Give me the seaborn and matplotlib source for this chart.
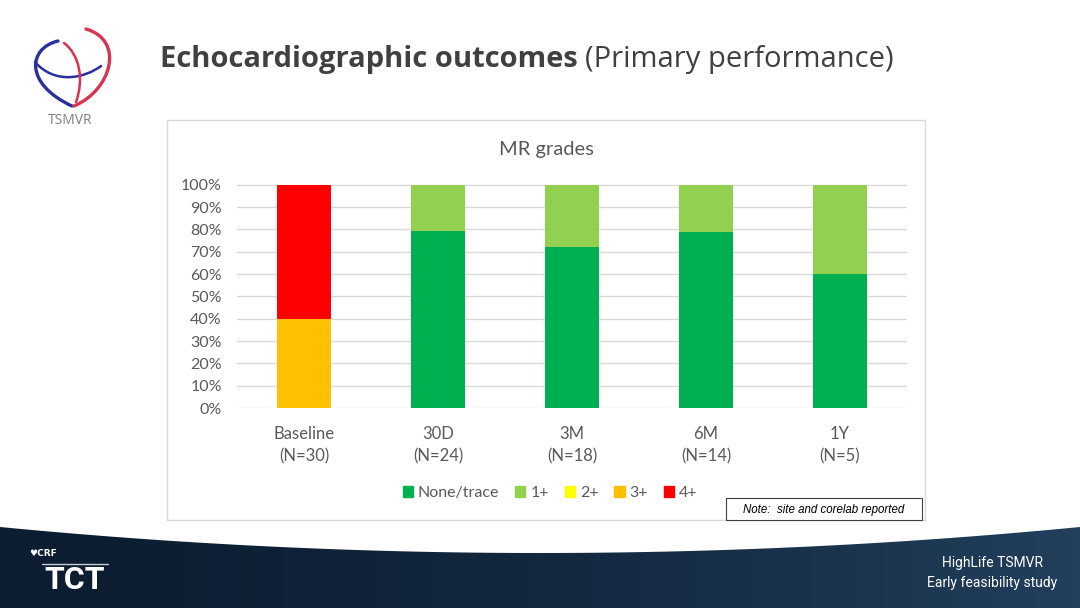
import numpy as np
import pandas as pd
import matplotlib
matplotlib.use("Agg")
import matplotlib.pyplot as plt
import seaborn as sns
from matplotlib.patches import Rectangle, Patch, PathPatch, Polygon
from matplotlib.path import Path
from matplotlib.colors import LinearSegmentedColormap
from matplotlib.ticker import PercentFormatter

# data (percent of patients per MR grade)
timepoints = ["Baseline\n(N=30)", "30D\n(N=24)", "3M\n(N=18)", "6M\n(N=14)", "1Y\n(N=5)"]
grades = ["None/trace", "1+", "2+", "3+", "4+"]
none_trace = [0.0, 79.2, 72.2, 78.6, 60.0]
grade_1 = [0.0, 20.8, 27.8, 21.4, 40.0]
grade_2 = [0.0, 0.0, 0.0, 0.0, 0.0]
grade_3 = [40.0, 0.0, 0.0, 0.0, 0.0]
grade_4 = [60.0, 0.0, 0.0, 0.0, 0.0]
grade_colors = ["#00B050", "#92D050", "#FFFF00", "#FFC000", "#FF0000"]

sns.set_theme(style="white")
plt.rcParams["font.family"] = ["Lato", "DejaVu Sans"]

df = pd.DataFrame({"timepoint": timepoints, "None/trace": none_trace, "1+": grade_1,
                   "2+": grade_2, "3+": grade_3, "4+": grade_4})
cum = df[grades].cumsum(axis=1) / 100.0

W, H = 1080, 608
fig = plt.figure(figsize=(W / 100, H / 100), dpi=100)
fig.patch.set_facecolor("white")

def fx(px):
    return px / W

def fy(py):
    return 1 - py / H

# chart frame
fig.patches.append(Rectangle((fx(167), fy(520)), fx(925) - fx(167), fy(120) - fy(520),
                             transform=fig.transFigure, fc="white", ec="#d9d9d9", lw=1, zorder=-2))

ax = fig.add_axes([fx(237), fy(408), fx(907) - fx(237), fy(184) - fy(408)])
# stacked bars: draw cumulative totals from the top grade down
for g, c in reversed(list(zip(grades, grade_colors))):
    sns.barplot(x=df["timepoint"], y=cum[g], color=c, width=0.4, saturation=1,
                errorbar=None, linewidth=0, ax=ax)

ax.set_ylim(0, 1.003)
ax.set_xlim(-0.5, 4.5)
ax.set_yticks(np.arange(0, 1.01, 0.1))
ax.yaxis.set_major_formatter(PercentFormatter(1.0, decimals=0))
ax.grid(axis="y", color="#d9d9d9", lw=1)
ax.set_axisbelow(True)
ax.patch.set_alpha(0)
for s in ax.spines.values():
    s.set_visible(False)
ax.set_xlabel("")
ax.set_ylabel("")
ax.tick_params(axis="y", length=0, pad=11, labelsize=11.5, labelcolor="#595959")
ax.tick_params(axis="x", length=0, pad=13, labelsize=12, labelcolor="#595959")
for lab in ax.get_xticklabels():
    lab.set_linespacing(1.5)

fig.text(fx(546), fy(149), "MR grades", ha="center", va="center", fontsize=14.5, color="#595959")

handles = [Patch(color=c, label=g) for g, c in zip(grades, grade_colors)]
fig.legend(handles=handles, loc="center", bbox_to_anchor=(fx(550), fy(493)), ncol=5,
           frameon=False, handlelength=0.65, handleheight=0.65, handletextpad=0.3,
           columnspacing=1.0, fontsize=11.5, labelcolor="#595959")

# note box
fig.patches.append(Rectangle((fx(726), fy(520)), fx(922) - fx(726), fy(498) - fy(520),
                             transform=fig.transFigure, fc="white", ec="#404040", lw=0.8, zorder=3))
fig.text(fx(824), fy(509.5), "Note:  site and corelab reported", ha="center", va="center",
         fontsize=8.3, style="italic", family="Liberation Sans", color="black", zorder=4)

# slide title
t1 = fig.text(fx(160), fy(60), "Echocardiographic outcomes", ha="left", va="center",
              fontsize=21, weight="bold", family="Open Sans", color="#404040")
r = fig.canvas.get_renderer()
bb = t1.get_window_extent(renderer=r)
fig.text(bb.x1 / W + fx(7), fy(60), "(Primary performance)", ha="left", va="center",
         fontsize=21, family="Open Sans", color="#404040")

# logo
lax = fig.add_axes([fx(25), fy(112), fx(90), fy(27) - fy(112)])
lax.set_xlim(25, 115)
lax.set_ylim(112, 27)
lax.axis("off")

def curve(pts, color, lw):
    codes = [Path.MOVETO] + [Path.CURVE4] * (len(pts) - 1)
    lax.add_patch(PathPatch(Path(pts, codes), fc="none", ec=color, lw=lw, capstyle="round"))

blue, red = "#2b2f9e", "#d9334f"
curve([(58, 41), (28, 48), (24, 84), (72, 106)], blue, 2.4)
curve([(35, 62), (55, 85), (85, 78), (101, 66)], blue, 1.8)
curve([(86, 29), (125, 40), (112, 90), (74, 106)], red, 2.4)
curve([(64, 43), (80, 55), (84, 80), (76, 102)], red, 1.8)
fig.text(fx(70), fy(120), "TSMVR", ha="center", va="center", fontsize=10,
         family="Open Sans", color="#7f7f7f")

# bottom band
bax = fig.add_axes([0, 0, 1, fy(520)], zorder=-1)
bax.set_xlim(0, W)
bax.set_ylim(H, 520)
bax.axis("off")
grad = np.linspace(0, 1, 256).reshape(1, -1) ** 1.6
cmap = LinearSegmentedColormap.from_list("band", ["#0c1d31", "#223f5c"])
im = bax.imshow(grad, extent=[0, W, H, 520], aspect="auto", cmap=cmap)
xs = np.linspace(0, W, 200)
ys = 527 + 26 * (1 - ((xs - 540) / 540) ** 2)
poly = Polygon(np.column_stack([np.r_[xs, W, 0], np.r_[ys, H, H]]), closed=True,
               fc="none", ec="none", transform=bax.transData)
bax.add_patch(poly)
im.set_clip_path(poly)

fig.text(fx(992), fy(563), "HighLife TSMVR", ha="center", va="center", fontsize=10,
         family="Roboto", color="white")
fig.text(fx(992), fy(583), "Early feasibility study", ha="center", va="center", fontsize=10,
         family="Roboto", color="white")
fig.text(fx(29), fy(553), "\u2665CRF", ha="left", va="center", fontsize=6.5, weight="bold",
         family="DejaVu Sans", color="white")
fig.add_artist(plt.Line2D([fx(42), fx(108)], [fy(564), fy(564)], color="#c8ccd2", lw=1,
                          transform=fig.transFigure))
fig.text(fx(75), fy(580), "TCT", ha="center", va="center", fontsize=23, weight="bold",
         family="Roboto", color="white")

fig.savefig("out.png", dpi=100)
